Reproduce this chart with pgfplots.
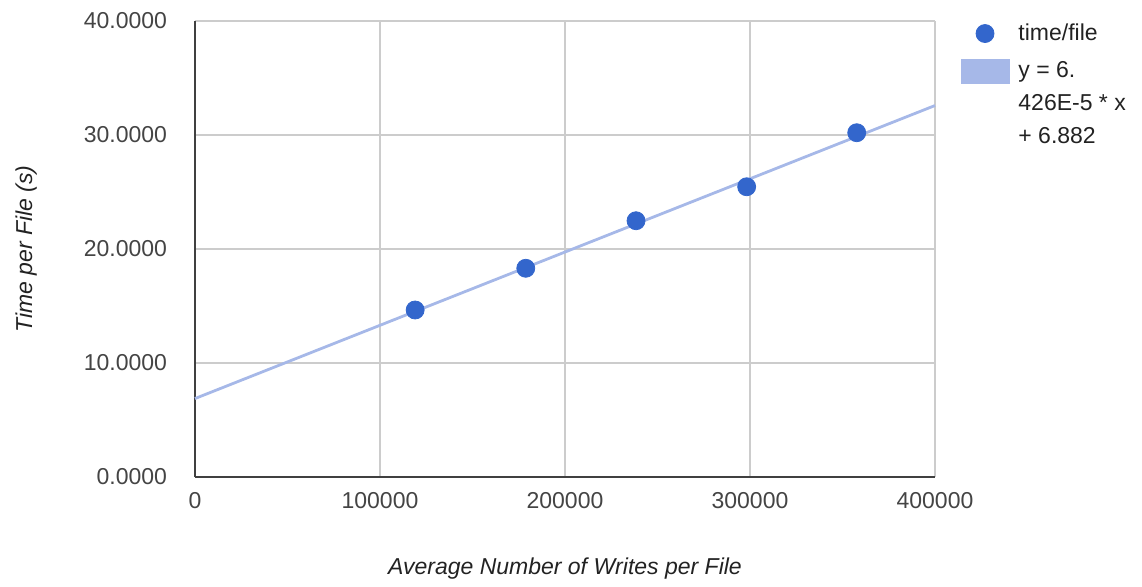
\documentclass[border=0pt]{standalone}
\usepackage{fontspec}
\setmainfont{Liberation Sans}
\usepackage{pgfplots}
\pgfplotsset{compat=1.18}

\definecolor{ptblue}{HTML}{3366CC}
\definecolor{trendblue}{HTML}{A6B8E8}
\definecolor{gridgray}{HTML}{CCCCCC}
\definecolor{ticktext}{HTML}{444444}
\definecolor{labeltext}{HTML}{222222}

\begin{document}
\fontsize{11.5}{14}\selectfont
\begin{tikzpicture}
\begin{axis}[
  at={(0,0)}, anchor=south west,
  scale only axis,
  width=370pt, height=228pt,
  xmin=0, xmax=400000, ymin=0, ymax=40,
  scaled x ticks=false, scaled y ticks=false,
  xtick={0,100000,200000,300000,400000},
  xticklabels={0,100000,200000,300000,400000},
  ytick={0,10,20,30,40},
  yticklabels={0.0000,10.0000,20.0000,30.0000,40.0000},
  major tick length=0pt,
  xticklabel style={text=ticktext, yshift=-3.5pt},
  yticklabel style={text=ticktext, xshift=-10pt},
  grid=major,
  major grid style={draw=gridgray, line width=0.6pt},
  axis lines*=left,
  axis line style={draw=black!75, line width=0.8pt},
  xlabel={\itshape Average Number of Writes per File},
  ylabel={\itshape Time per File (s)},
  xlabel style={text=labeltext, at={(axis description cs:0.5,-0.2)}, anchor=center},
  ylabel style={text=labeltext, at={(axis description cs:-0.228,0.5)}, anchor=center},
  clip=false,
  legend style={at={(axis description cs:1.026,1.013)}, anchor=north west,
    draw=none, fill=none, font=\fontsize{11.5}{16.5}\selectfont,
    cells={align=left, anchor=west, text=labeltext},
    row sep=5pt, column sep=2.5pt},
  legend cell align=left,
]
% fitted trend line y = 6.426e-5 x + 6.882
\addplot[trendblue, line width=1.4pt, forget plot] coordinates {(0,6.882) (400000,32.586)};
% measured time per file
\addplot[only marks, mark=*, mark size=4.5pt, mark options={fill=ptblue, draw=ptblue},
  legend image code/.code={%
    \path (0pt,0pt) (24pt,0pt);
    \draw[mark size=4.5pt, fill=ptblue, draw=ptblue] plot[mark=*] coordinates {(12pt,0pt)};}]
  coordinates {
    (119000,14.65)
    (178800,18.31)
    (238400,22.48)
    (298200,25.46)
    (357700,30.20)
  };
\addlegendentry{time/file}
\addlegendimage{legend image code/.code={%
    \path (0pt,-23pt) (24pt,23pt);
    \fill[trendblue] (0pt,10.5pt) rectangle (24pt,22.5pt);}}
\addlegendentry{y = 6.\\426E-5 * x\\+ 6.882}
\end{axis}
\pgfresetboundingbox
\useasboundingbox (-97.5pt,-54.5pt) rectangle (473.5pt,238.5pt);
\end{tikzpicture}
\end{document}
